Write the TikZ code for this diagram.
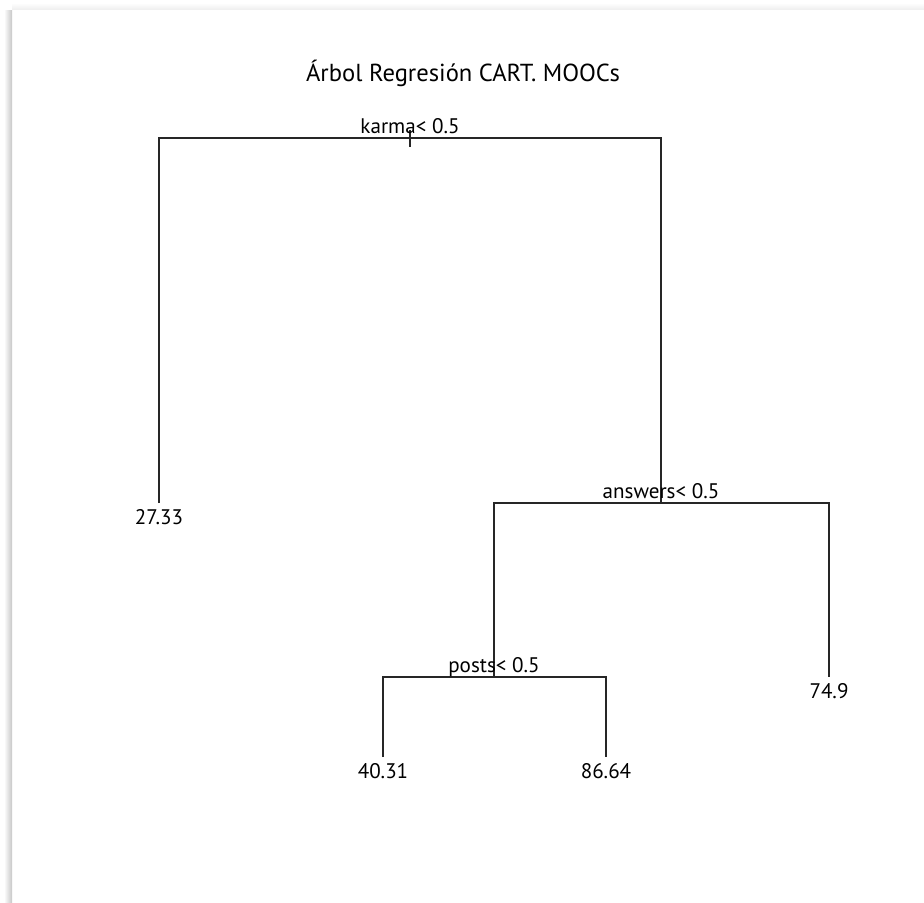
\documentclass[tikz,border=0pt]{standalone}
\usepackage{fontspec}
\setmainfont{PT Sans}
\usetikzlibrary{positioning}

\begin{document}
\begin{tikzpicture}[x=0.02cm,y=-0.02cm,
  branch/.style={draw=black!85,line width=0.8pt},
  splitlab/.style={anchor=base,inner sep=0pt,font=\fontsize{12}{14}\selectfont},
  leaflab/.style={anchor=north,inner sep=0pt,yshift=-3.5pt,font=\fontsize{12}{14}\selectfont}]
\useasboundingbox (0,0) rectangle (924,903);
% page shadow
\shade[left color=white,right color=black!22] (4,10) rectangle (12,903);
\shade[top color=white,bottom color=black!6] (12,3) rectangle (924,9);
\node[font=\fontsize{14}{16}\selectfont] (title) at (463,73) {Árbol Regresión CART. MOOCs};
% split points and leaves
\coordinate (root) at (410,138);
\coordinate (ans) at (661,503);
\coordinate (pst) at (494,677);
\coordinate (lfa) at (159,503);
\coordinate (lfb) at (829,677);
\coordinate (lfc) at (383,757);
\coordinate (lfd) at (606,757);
\coordinate (rtop) at (410,130);
\coordinate (rtick) at (410,147);
\draw[branch] (lfa) |- (root) -| (ans);
\draw[branch] (rtop) -- (rtick);
\draw[branch] (pst) |- (ans) -| (lfb);
\draw[branch] (lfc) |- (pst) -| (lfd);
\node[splitlab] (rootlab) at ([yshift=2.5pt]root) {karma< 0.5};
\node[splitlab] (anslab) at ([yshift=2.5pt]ans) {answers< 0.5};
\node[splitlab] (pstlab) at ([yshift=2.5pt]pst) {posts< 0.5};
\node[leaflab] (vala) at (lfa) {27.33};
\node[leaflab] (valb) at (lfb) {74.9};
\node[leaflab] (valc) at (lfc) {40.31};
\node[leaflab] (vald) at (lfd) {86.64};
\end{tikzpicture}
\end{document}
